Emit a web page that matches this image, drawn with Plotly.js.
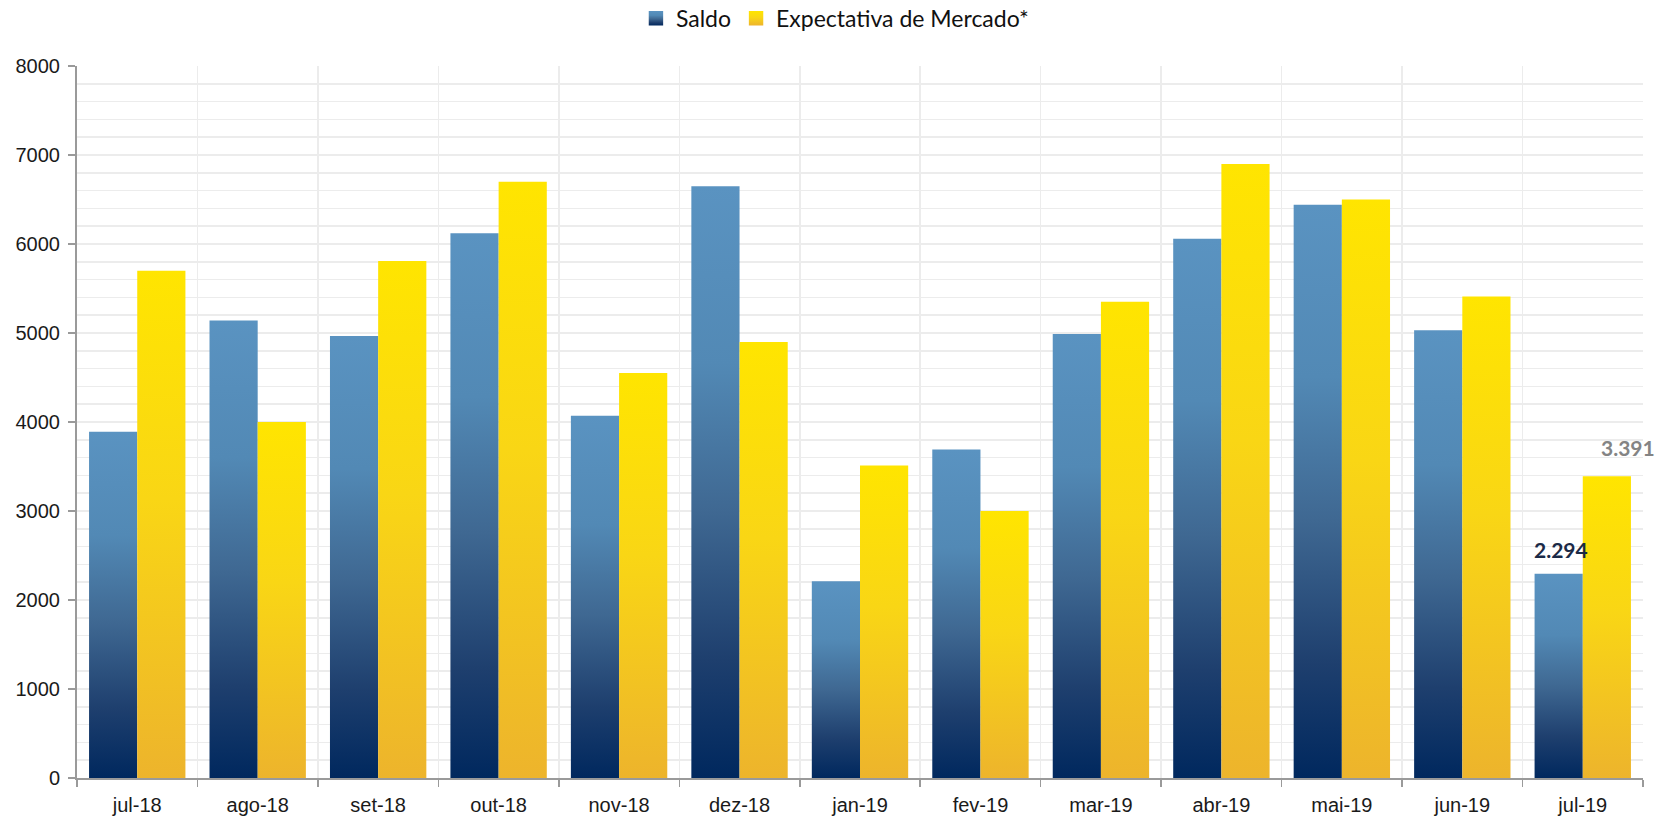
<!DOCTYPE html>
<html>
<head>
<meta charset="utf-8">
<script src="https://cdn.plot.ly/plotly-3.0.1.min.js"></script>
<style>
html,body{margin:0;padding:0;background:#fff;overflow:hidden;}
#chart{width:1673px;height:820px;}
</style>
</head>
<body>
<div id="chart"></div>
<script>
const categories = ['jul-18','ago-18','set-18','out-18','nov-18','dez-18','jan-19','fev-19','mar-19','abr-19','mai-19','jun-19','jul-19'];
const saldo = [3890, 5140, 4965, 6120, 4070, 6650, 2210, 3690, 4990, 6060, 6440, 5030, 2294];
const expectativa = [5700, 4000, 5810, 6700, 4550, 4900, 3510, 3000, 5350, 6900, 6500, 5410, 3391];
const seriesNames = ['Saldo', 'Expectativa de Mercado*'];
const labelSaldo = '2.294';
const labelExpect = '3.391';
const last = categories.length - 1;

const traces = [
  {type:'bar', name:seriesNames[0], x:categories, y:saldo, marker:{color:'#4A7BA8', line:{width:0}}, hoverinfo:'x+y'},
  {type:'bar', name:seriesNames[1], x:categories, y:expectativa, marker:{color:'#F8D21A', line:{width:0}}, hoverinfo:'x+y'}
];

const axisFont = {family:'"Liberation Sans", Arial, sans-serif', size:20, color:'#1a1a1a'};

const layout = {
  width:1673, height:820,
  paper_bgcolor:'#ffffff', plot_bgcolor:'#ffffff',
  margin:{l:77, r:30, t:66, b:42, autoexpand:false},
  barmode:'group', bargap:0.2, bargroupgap:0,
  showlegend:true,
  legend:{orientation:'h', x:0.484, xanchor:'center', y:1.067, yref:'paper', yanchor:'middle',
    font:{family:'Lato, "Noto Sans", sans-serif', size:23, color:'#111'}, itemwidth:30, traceorder:'normal'},
  xaxis:{
    type:'category', range:[-0.5, categories.length - 0.5], autorange:false,
    tickson:'boundaries', ticks:'outside', ticklen:7, tickwidth:1.5, tickcolor:'#9a9a9a',
    showline:true, linecolor:'#9a9a9a', linewidth:2,
    showgrid:true, gridcolor:'#ececec', gridwidth:1.5,
    tickfont:axisFont, ticklabelstandoff:8, fixedrange:true, automargin:false
  },
  yaxis:{
    range:[0,8000], autorange:false, dtick:1000, tick0:0, ticks:'outside', ticklen:7, tickwidth:1.5, tickcolor:'#9a9a9a',
    showline:true, linecolor:'#9a9a9a', linewidth:2,
    showgrid:true, gridcolor:'#ececec', gridwidth:1.5, zeroline:false,
    minor:{dtick:200, showgrid:true, gridcolor:'#ececec', gridwidth:1.5, ticks:''},
    tickfont:axisFont, ticklabelstandoff:4, fixedrange:true, automargin:false
  },
  annotations:[
    {x:categories[last], y:saldo[last], xref:'x', yref:'y', text:'<b>'+labelSaldo+'</b>', showarrow:false,
     xshift:-22, yshift:24, yanchor:'middle', font:{family:'Lato, "Noto Sans", sans-serif', size:21, color:'#1b2a47'}},
    {x:categories[last], y:expectativa[last], xref:'x', yref:'y', text:'<b>'+labelExpect+'</b>', showarrow:false,
     xshift:45, yshift:29, yanchor:'middle', font:{family:'Lato, "Noto Sans", sans-serif', size:21, color:'#848484'}}
  ]
};

function addGradients(gd){
  const NS = 'http://www.w3.org/2000/svg';
  const svg = gd.querySelector('.main-svg');
  let defs = svg.querySelector('defs');
  if(!defs){ defs = document.createElementNS(NS,'defs'); svg.insertBefore(defs, svg.firstChild); }
  function grad(id, stops){
    const g = document.createElementNS(NS,'linearGradient');
    g.setAttribute('id', id);
    g.setAttribute('x1','0'); g.setAttribute('y1','0'); g.setAttribute('x2','0'); g.setAttribute('y2','1');
    stops.forEach(s=>{
      const st = document.createElementNS(NS,'stop');
      st.setAttribute('offset', s[0]); st.setAttribute('stop-color', s[1]);
      g.appendChild(st);
    });
    defs.appendChild(g);
  }
  grad('gSaldo', [['0','#5A93C1'],['0.3','#5289B5'],['0.55','#3F6892'],['0.8','#1E3F6E'],['1','#00285E']]);
  grad('gExp', [['0','#FFE500'],['0.45','#F9D615'],['1','#EDB42C']]);
  const ids = ['gSaldo','gExp'];
  gd.querySelectorAll('.barlayer .trace.bars').forEach((t,i)=>{
    t.querySelectorAll('.point path').forEach(p=>{ p.style.fill = 'url(#'+ids[i]+')'; });
  });
  gd.querySelectorAll('.legend .traces').forEach((t,i)=>{
    t.querySelectorAll('.legendpoints path').forEach(p=>{
      p.style.fill = 'url(#'+ids[i]+')';
      p.setAttribute('transform', (p.getAttribute('transform')||'') + ' scale(1.2)');
    });
  });
}

Plotly.newPlot('chart', traces, layout, {displayModeBar:false, staticPlot:true}).then(addGradients);
</script>
</body>
</html>
